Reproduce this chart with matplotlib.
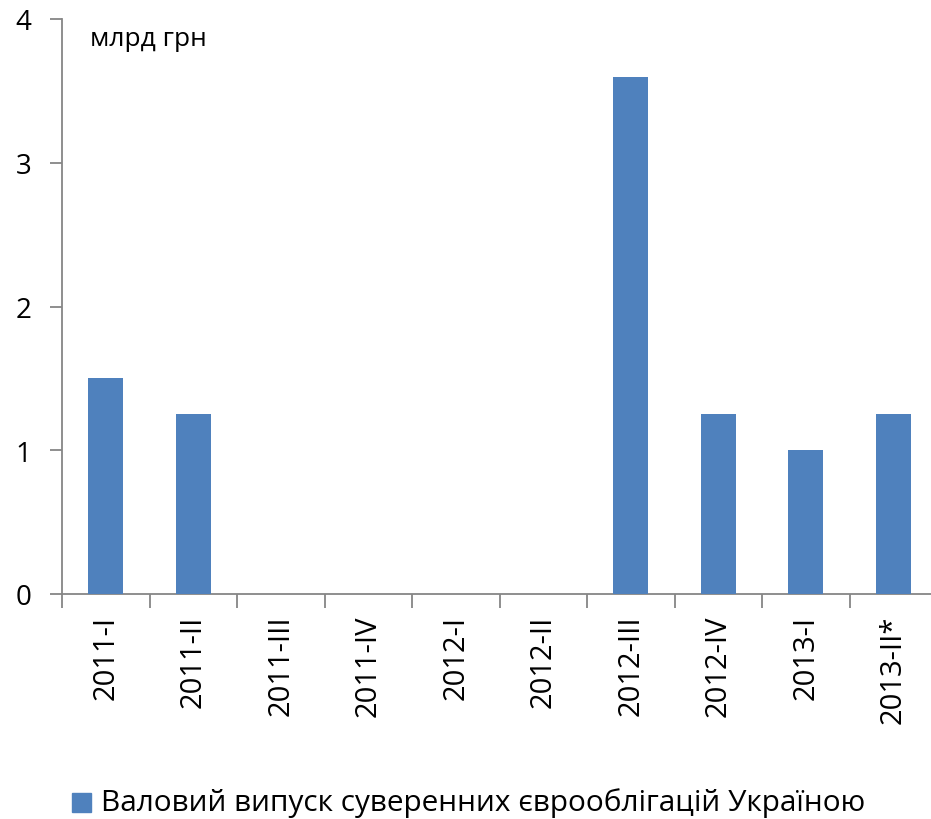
import matplotlib
matplotlib.use("Agg")
import matplotlib.pyplot as plt
from matplotlib.patches import Rectangle
import numpy as np

categories = ["2011-I", "2011-II", "2011-III", "2011-IV", "2012-I", "2012-II",
              "2012-III", "2012-IV", "2013-I", "2013-II*"]
values = [1.5, 1.25, 0, 0, 0, 0, 3.6, 1.25, 1.0, 1.25]
series_name = "Валовий випуск суверенних єврооблігацій Україною"
unit_label = "млрд грн"
y_ticks = [0, 1, 2, 3, 4]

plt.rcParams['font.family'] = ['Open Sans', 'DejaVu Sans']

W, H = 931, 820
fig = plt.figure(figsize=(W / 100, H / 100), dpi=100)
left_px, right_px, top_px, bottom_px = 62, 937, 20, 595
ax = fig.add_axes([left_px / W, 1 - bottom_px / H, (right_px - left_px) / W, (bottom_px - top_px) / H])

color = "#4F81BD"
x = np.arange(len(categories))
ax.bar(x, values, width=0.4, color=color, zorder=3)

ax.set_xlim(-0.5, len(categories) - 0.5)
ax.set_ylim(0, 4)

gray = "#868686"
for s in ["top", "right"]:
    ax.spines[s].set_visible(False)
for s in ["left", "bottom"]:
    ax.spines[s].set_color(gray)
    ax.spines[s].set_linewidth(1.3)

ax.set_yticks(y_ticks)
ax.set_yticklabels([str(t) for t in y_ticks], fontsize=20)
ax.tick_params(axis="y", length=9, width=1.3, color=gray, pad=13)

ax.set_xticks(np.arange(-0.5, len(categories), 1.0))
ax.set_xticklabels([])
ax.tick_params(axis="x", which="major", length=10, width=1.3, color=gray)
ax.set_xticks(x, minor=True)
ax.set_xticklabels(categories, minor=True, rotation=90, fontsize=21)
ax.tick_params(axis="x", which="minor", length=0, pad=15)

ax.text(90 / W, 1 - 40 / H, unit_label, transform=fig.transFigure, fontsize=19,
        va="center", ha="left")

# legend
fig.patches.append(Rectangle((72 / W, 1 - 813 / H), 19 / W, 19 / H,
                             transform=fig.transFigure, color=color))
fig.text(101 / W, 1 - 803 / H, series_name, fontsize=21.4, va="center", ha="left")

fig.savefig("out.png", dpi=100)
